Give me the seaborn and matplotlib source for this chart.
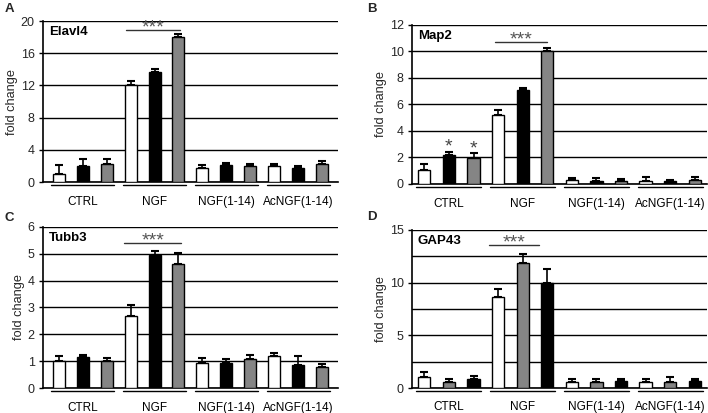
import matplotlib
matplotlib.use("Agg")
import matplotlib.pyplot as plt
import matplotlib.transforms as mtransforms
import numpy as np
import pandas as pd
import seaborn as sns

sns.set_theme(style="white")
plt.rcParams['font.family'] = ['Liberation Sans', 'DejaVu Sans']

groups = ["CTRL", "NGF", "NGF(1-14)", "AcNGF(1-14)"]
series = ["s1", "s2", "s3"]

# Panel A: Elavl4 (values per series, in group order)
elavl4_s1 = [1.0, 12.0, 1.8, 1.95]
elavl4_s2 = [2.0, 13.7, 2.1, 1.8]
elavl4_s3 = [2.2, 18.0, 2.05, 2.2]
elavl4_e1 = [1.1, 0.5, 0.35, 0.25]
elavl4_e2 = [0.8, 0.3, 0.2, 0.2]
elavl4_e3 = [0.6, 0.4, 0.2, 0.4]

# Panel B: Map2
map2_s1 = [1.03, 5.2, 0.3, 0.2]
map2_s2 = [2.17, 7.13, 0.2, 0.2]
map2_s3 = [1.96, 10.0, 0.25, 0.28]
map2_e1 = [0.5, 0.42, 0.18, 0.3]
map2_e2 = [0.25, 0.15, 0.25, 0.13]
map2_e3 = [0.38, 0.28, 0.15, 0.27]

# Panel C: Tubb3
tubb3_s1 = [0.99, 2.69, 0.95, 1.18]
tubb3_s2 = [1.14, 4.97, 0.93, 0.85]
tubb3_s3 = [0.99, 4.63, 1.07, 0.79]
tubb3_e1 = [0.21, 0.4, 0.18, 0.13]
tubb3_e2 = [0.1, 0.15, 0.14, 0.33]
tubb3_e3 = [0.14, 0.41, 0.16, 0.11]

# Panel D: GAP43
gap43_s1 = [1.07, 8.63, 0.56, 0.53]
gap43_s2 = [0.56, 11.9, 0.56, 0.56]
gap43_s3 = [0.82, 10.0, 0.7, 0.7]
gap43_e1 = [0.47, 0.75, 0.32, 0.29]
gap43_e2 = [0.32, 0.78, 0.26, 0.44]
gap43_e3 = [0.34, 1.3, 0.2, 0.2]

WHITE, BLACK, GRAY = "#ffffff", "#000000", "#858585"

panels = [
    dict(letter="A", gene="Elavl4", vals=[elavl4_s1, elavl4_s2, elavl4_s3],
         errs=[elavl4_e1, elavl4_e2, elavl4_e3], colors=[WHITE, BLACK, GRAY],
         ylim=20, major=[0, 4, 8, 12, 16, 20], minor=[], xlim=(-0.55, 3.55),
         rect=[0.0607, 0.5593, 0.4167, 0.3898], sig=(0.60, 1.36, 18.9),
         letter_xy=(0.006, 0.978)),
    dict(letter="B", gene="Map2", vals=[map2_s1, map2_s2, map2_s3],
         errs=[map2_e1, map2_e2, map2_e3], colors=[WHITE, BLACK, GRAY],
         ylim=12, major=[0, 2, 4, 6, 8, 10, 12], minor=[], xlim=(-0.5, 3.5),
         rect=[0.582, 0.5545, 0.4167, 0.385], sig=(0.63, 1.335, 10.68),
         letter_xy=(0.519, 0.978)),
    dict(letter="C", gene="Tubb3", vals=[tubb3_s1, tubb3_s2, tubb3_s3],
         errs=[tubb3_e1, tubb3_e2, tubb3_e3], colors=[WHITE, BLACK, GRAY],
         ylim=6, major=[0, 1, 2, 3, 4, 5, 6], minor=[], xlim=(-0.55, 3.55),
         rect=[0.0607, 0.0605, 0.4167, 0.390], sig=(0.58, 1.37, 5.40),
         letter_xy=(0.006, 0.472)),
    dict(letter="D", gene="GAP43", vals=[gap43_s1, gap43_s2, gap43_s3],
         errs=[gap43_e1, gap43_e2, gap43_e3], colors=[WHITE, GRAY, BLACK],
         ylim=15, major=[0, 5, 10, 15], minor=[2.5, 7.5, 12.5], xlim=(-0.5, 3.5),
         rect=[0.582, 0.0605, 0.4167, 0.3826], sig=(0.54, 1.22, 13.55),
         letter_xy=(0.519, 0.475)),
]

fig = plt.figure(figsize=(7.08, 4.13), dpi=100)

for p in panels:
    ax = fig.add_axes(p["rect"])
    rows = []
    for s, v in zip(series, p["vals"]):
        for g, val in zip(groups, v):
            rows.append(dict(group=g, series=s, value=val))
    df = pd.DataFrame(rows)
    sns.barplot(data=df, x="group", y="value", hue="series", order=groups,
                hue_order=series, palette=p["colors"], width=1.0, gap=0.5,
                edgecolor="black", linewidth=1.0, errorbar=None, legend=False,
                saturation=1, ax=ax, zorder=3)
    # error bars (upper only)
    for cont, v, e in zip(ax.containers, p["vals"], p["errs"]):
        xs = [b.get_x() + b.get_width() / 2 for b in cont]
        ax.errorbar(xs, v, yerr=[np.zeros(len(e)), e], fmt="none",
                    ecolor="black", elinewidth=1.2, capsize=3.2, capthick=1.5,
                    zorder=2.5)
    if p["letter"] == "B":
        cont_b = ax.containers
        for ci in (1, 2):
            b = cont_b[ci][0]
            xc = b.get_x() + b.get_width() / 2
            top = p["vals"][ci][0] + p["errs"][ci][0]
            ax.annotate("*", (xc, top), xytext=(0, 0), textcoords="offset points",
                        ha="center", va="baseline", fontsize=14, color="#444444")

    ax.set_xlim(*p["xlim"])
    ax.set_ylim(0, p["ylim"])
    ax.set_yticks(p["major"])
    ax.set_yticks(p["minor"], minor=True)
    ax.set_xticks([])
    ax.set_xlabel("")
    ax.set_ylabel("fold change", fontsize=9.2, labelpad=2)
    ax.tick_params(axis="y", which="major", length=3, width=1, color="black",
                   labelsize=9, pad=3, direction="out", left=True)
    ax.tick_params(axis="y", which="minor", length=0)
    ax.yaxis.grid(True, which="both", color="black", linewidth=1.0, zorder=1)
    ax.set_axisbelow(True)
    for side in ("top", "right"):
        ax.spines[side].set_visible(False)
    for side in ("left", "bottom"):
        ax.spines[side].set_visible(True)
        ax.spines[side].set_color("black")
        ax.spines[side].set_linewidth(1.2)
    ax.set_facecolor("white")

    trans = mtransforms.blended_transform_factory(ax.transData, ax.transAxes)
    for i, g in enumerate(groups):
        ax.plot([i - 0.44, i + 0.44], [-0.02, -0.02], color="black", lw=1.0,
                transform=trans, clip_on=False)
        ax.text(i, -0.123, g, transform=trans, ha="center", va="center",
                fontsize=8.5, color="black")

    x0, x1, ys = p["sig"]
    ax.plot([x0, x1], [ys, ys], color="#333333", lw=1.0, zorder=4)
    ax.annotate("***", ((x0 + x1) / 2, ys), xytext=(0, -1.6),
                textcoords="offset points", ha="center", va="baseline",
                fontsize=14, color="#555555", zorder=4)

    ax.text(0.02, 0.97, p["gene"], transform=ax.transAxes, ha="left", va="top",
            fontsize=9.5, fontweight="bold", color="black")
    fig.text(p["letter_xy"][0], p["letter_xy"][1], p["letter"], ha="left",
             va="center", fontsize=9.5, fontweight="bold")

fig.savefig("out.png", dpi=100, facecolor="white")
